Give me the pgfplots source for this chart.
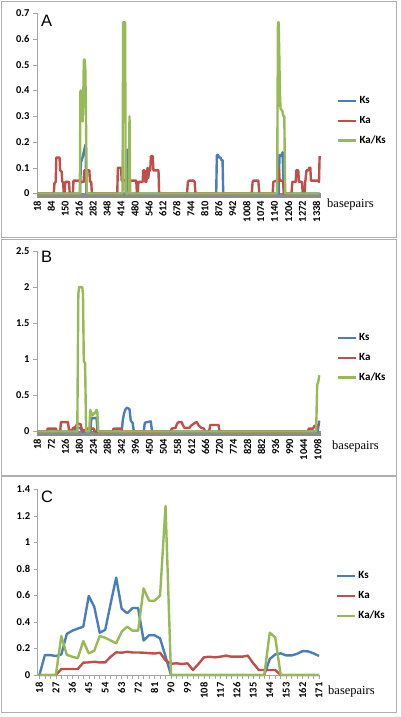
\documentclass[border=0pt]{standalone}
\usepackage{fontspec}
\setmainfont{Carlito}
\newfontfamily\timesf{Liberation Serif}
\newfontfamily\arialf{Liberation Sans}
\usepackage{pgfplots}
\pgfplotsset{compat=1.18}
\definecolor{ksblue}{RGB}{74,126,187}
\definecolor{kared}{RGB}{192,78,74}
\definecolor{kkgreen}{RGB}{152,186,86}
\definecolor{framegray}{RGB}{175,175,175}
\definecolor{axgray}{RGB}{165,165,165}
\definecolor{bandgray}{RGB}{140,140,140}
\pgfplotsset{
  excel/.style={
    scale only axis, clip=false,
    axis x line*=bottom, axis y line*=left,
    axis line style={draw=axgray, line width=0.6pt},
    tick align=outside,
    major tick length=4pt, minor tick length=4pt,
    tick style={draw=axgray, line width=0.5pt},
    ymin=0,
    /pgf/number format/assume math mode=true,
    /pgf/number format/1000 sep={},
    ticklabel style={font=\fontsize{10.5}{12}\selectfont\bfseries},
    xticklabel style={rotate=90, anchor=east},
    legend cell align=left,
    legend style={draw=none, fill=none, font=\fontsize{11}{13}\selectfont\bfseries, row sep=7pt, inner sep=0pt},
    legend image code/.code={\draw[##1, line width=2.4pt] (0pt,0pt) -- (18pt,0pt);},
    every axis plot/.append style={line width=2.4pt, line join=round, mark=none},
  }
}
\begin{document}
\begin{tikzpicture}
\path (0,0) rectangle (400pt,717pt);
% frames
\draw[framegray, line width=0.8pt] (1.5pt,716pt) rectangle (396.5pt,480pt);
\draw[framegray, line width=0.8pt] (1.5pt,478pt) rectangle (396.5pt,242pt);
\draw[framegray, line width=0.8pt] (1.5pt,241pt) rectangle (396.5pt,5pt);

% ---------------- Panel A ----------------
\begin{axis}[excel, at={(37pt,523.5pt)}, anchor=south west,
  width=284pt, height=180.2pt, xmin=16.5, xmax=1359.5, ymax=0.7,
  xtick={18,84,...,1338}, ytick={0,0.1,0.2,0.3,0.4,0.5,0.6,0.7},
  legend style={at={(1.056,0.402)}, anchor=west}]
\fill[bandgray] (rel axis cs:0,0) rectangle ([yshift=-5pt]rel axis cs:1,0);
\addplot[ksblue] coordinates {(18,0)(220,0)(224,0.12)(232,0.14)(240,0.17)(246,0.19)(250,0)(436,0)(439,0.16)(445,0.17)(448,0)(864,0)(867,0.15)(873,0.15)(876,0.14)(885,0.14)(888,0.13)(894,0.13)(897,0)(1160,0)(1163,0.15)(1172,0.145)(1178,0.16)(1184,0)(1353,0)};
\addplot[kared] coordinates {(18,0)(96,0)(99,0.04)(105,0.045)(108,0.14)(123,0.14)(126,0.09)(133,0.085)(136,0.045)(140,0.045)(143,0)(147,0)(150,0.045)(168,0.045)(171,0)(186,0)(189,0.05)(216,0.05)(219,0.045)(237,0.045)(240,0.09)(264,0.09)(267,0.045)(273,0.045)(276,0)(396,0)(399,0.1)(414,0.1)(417,0.05)(486,0.05)(489,0)(493,0)(496,0.045)(516,0.045)(519,0.09)(525,0.09)(528,0.045)(534,0.045)(537,0.09)(540,0.1)(543,0.06)(546,0.09)(552,0.09)(555,0.145)(564,0.145)(567,0.09)(591,0.09)(594,0)(726,0)(730,0.045)(735,0.05)(757,0.05)(762,0.045)(766,0)(1032,0)(1036,0.045)(1040,0.05)(1063,0.05)(1068,0)(1131,0)(1134,0.045)(1148,0.05)(1152,0.045)(1156,0.095)(1160,0.095)(1163,0.05)(1175,0.05)(1180,0.045)(1184,0)(1220,0)(1224,0.045)(1240,0.045)(1243,0.09)(1252,0.09)(1255,0.045)(1270,0.045)(1273,0)(1282,0)(1285,0.045)(1291,0.09)(1300,0.09)(1303,0.1)(1309,0.1)(1312,0.05)(1345,0.05)(1350,0.045)(1353,0.145)};
\addplot[kkgreen] coordinates {(18,0)(219,0)(222,0.40)(226,0.40)(229,0.33)(232,0.28)(235,0.35)(238,0.52)(242,0.52)(245,0.48)(248,0.30)(252,0)(421,0)(424,0.665)(433,0.665)(436,0)(450,0)(454,0.30)(457,0)(1152,0)(1156,0.665)(1159,0.665)(1162,0.55)(1165,0.40)(1168,0.33)(1177,0.32)(1182,0.30)(1186,0.30)(1190,0)(1353,0)};
\legend{Ks,Ka,Ka/Ks}
\end{axis}
\node[anchor=west, inner sep=0, font=\arialf\fontsize{16.5}{18}\selectfont] at (41pt,696pt) {A};
\node[anchor=west, inner sep=0, font=\timesf\fontsize{12.5}{14}\selectfont] at (327pt,512pt) {basepairs};

% ---------------- Panel B ----------------
\begin{axis}[excel, at={(37pt,285.5pt)}, anchor=south west,
  width=283.7pt, height=180.5pt, xmin=16.8, xmax=1109.6, ymax=2.5,
  xtick={18,72,...,1098}, ytick={0,0.5,1,1.5,2,2.5},
  legend style={at={(1.056,0.407)}, anchor=west}]
\fill[bandgray] (rel axis cs:0,0) rectangle ([yshift=-5pt]rel axis cs:1,0);
\addplot[ksblue] coordinates {(18,0)(160,0)(165,0.05)(185,0.05)(190,0)(222,0)(226,0.18)(246,0.19)(250,0)(343,0)(347,0.15)(352,0.25)(358,0.31)(364,0.33)(373,0.31)(378,0.15)(385,0.12)(390,0)(428,0)(432,0.12)(440,0.13)(455,0.14)(460,0)(1098,0)(1104,0.15)};
\addplot[kared] coordinates {(18,0)(55,0)(58,0.04)(90,0.04)(93,0)(106,0)(109,0.13)(136,0.13)(140,0.02)(152,0.02)(156,0.05)(165,0.06)(172,0.11)(185,0.1)(190,0.02)(205,0.02)(208,0.04)(236,0.04)(239,0)(308,0)(312,0.04)(342,0.04)(345,0)(532,0)(536,0.04)(550,0.05)(557,0.11)(562,0.13)(574,0.13)(580,0.08)(585,0.05)(604,0.05)(610,0.08)(625,0.12)(632,0.13)(640,0.08)(650,0.05)(660,0.04)(664,0)(680,0)(684,0.09)(716,0.09)(720,0)(1060,0)(1064,0.04)(1080,0.04)(1086,0.08)(1098,0.08)(1104,0.1)};
\addplot[kkgreen] coordinates {(18,0)(172,0)(176,1.9)(179,2.0)(191,2.0)(194,1.9)(197,0.97)(202,0.95)(206,0)(218,0)(222,0.30)(226,0.25)(230,0.22)(234,0.25)(240,0.25)(246,0.30)(249,0.28)(253,0)(1092,0)(1096,0.65)(1100,0.68)(1104,0.78)};
\legend{Ks,Ka,Ka/Ks}
\end{axis}
\node[anchor=west, inner sep=0, font=\arialf\fontsize{16.5}{18}\selectfont] at (41pt,460pt) {B};
\node[anchor=west, inner sep=0, font=\timesf\fontsize{12.5}{14}\selectfont] at (332pt,270.3pt) {basepairs};

% ---------------- Panel C ----------------
\begin{axis}[excel, at={(37.7pt,42pt)}, anchor=south west,
  width=282.3pt, height=185.7pt, xmin=17.07, xmax=171.5, ymax=1.4,
  xtick={18,27,...,171}, minor xtick={18,21,...,171},
  ytick={0,0.2,0.4,0.6,0.8,1,1.2,1.4},
  legend style={at={(1.056,0.425)}, anchor=west}]
\addplot[ksblue] coordinates {(18,0)(21,0.15)(24,0.15)(27,0.143)(30,0.155)(33,0.31)(36,0.334)(39,0.35)(42,0.364)(45,0.596)(48,0.515)(51,0.319)(54,0.34)(57,0.54)(60,0.734)(63,0.50)(66,0.465)(69,0.505)(72,0.505)(75,0.26)(78,0.30)(81,0.30)(84,0.276)(87,0.14)(90,0)(93,0)(96,0)(99,0)(102,0)(105,0)(108,0)(111,0)(114,0)(117,0)(120,0)(123,0)(126,0)(129,0)(132,0)(135,0)(138,0)(141,0)(144,0.12)(147,0.155)(150,0.163)(153,0.148)(156,0.148)(159,0.16)(162,0.18)(165,0.178)(168,0.163)(171,0.143)};
\addplot[kared] coordinates {(18,0)(21,0)(24,0)(27,0)(30,0.045)(33,0.045)(36,0.045)(39,0.045)(42,0.093)(45,0.095)(48,0.1)(51,0.095)(54,0.095)(57,0.138)(60,0.171)(63,0.168)(66,0.175)(69,0.17)(72,0.17)(75,0.168)(78,0.165)(81,0.162)(84,0.168)(87,0.11)(90,0.085)(93,0.088)(96,0.083)(99,0.088)(102,0.038)(105,0.083)(108,0.133)(111,0.138)(114,0.133)(117,0.138)(120,0.146)(123,0.138)(126,0.138)(129,0.138)(132,0.146)(135,0.088)(138,0.038)(141,0.038)(144,0.038)(147,0.038)(150,0)(153,0)(156,0)(159,0)(162,0)(165,0)(168,0)(171,0)};
\addplot[kkgreen] coordinates {(18,0)(21,0)(24,0)(27,0)(30,0.294)(33,0.151)(36,0.138)(39,0.126)(42,0.256)(45,0.163)(48,0.183)(51,0.294)(54,0.281)(57,0.26)(60,0.239)(63,0.327)(66,0.364)(69,0.334)(72,0.334)(75,0.653)(78,0.56)(81,0.56)(84,0.598)(87,1.274)(90,0)(93,0)(96,0)(99,0)(102,0)(105,0)(108,0)(111,0)(114,0)(117,0)(120,0)(123,0)(126,0)(129,0)(132,0)(135,0)(138,0)(141,0)(144,0.319)(147,0.284)(150,0)(153,0)(156,0)(159,0)(162,0)(165,0)(168,0)(171,0)};
\legend{Ks,Ka,Ka/Ks}
\end{axis}
\node[anchor=west, inner sep=0, font=\arialf\fontsize{16.5}{18}\selectfont] at (41pt,220.5pt) {C};
\node[anchor=west, inner sep=0, font=\timesf\fontsize{12.5}{14}\selectfont] at (328pt,25.3pt) {basepairs};
\end{tikzpicture}
\end{document}
